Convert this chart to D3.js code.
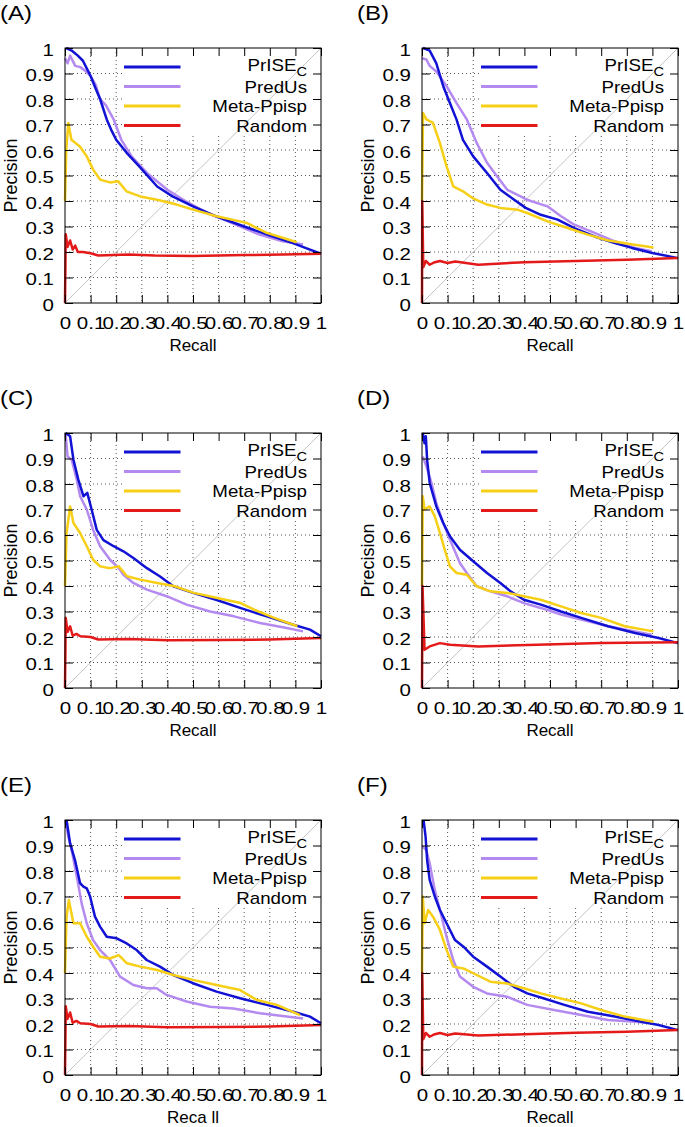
<!DOCTYPE html>
<html>
<head>
<meta charset="utf-8">
<script src="https://cdn.jsdelivr.net/npm/d3@7"></script>
<style>
  body { margin: 0; background: #fff; }
  text { font-family: "Liberation Sans", Arial, sans-serif; fill: #000; }
</style>
</head>
<body>
<svg id="chart" width="685" height="1127"></svg>
<script>
// Tick values and labels (same for both axes)
const tickValues = [0, 0.1, 0.2, 0.3, 0.4, 0.5, 0.6, 0.7, 0.8, 0.9, 1];
const tickLabels = ["0", "0.1", "0.2", "0.3", "0.4", "0.5", "0.6", "0.7", "0.8", "0.9", "1"];
const seriesNames = ["PrISE", "PredUs", "Meta-Ppisp", "Random"];
const panelIds = ["A", "B", "C", "D", "E", "F"];
const xTitles = ["Recall", "Recall", "Recall", "Recall", "Reca ll", "Recall"];

// [recall, precision]
const aPrise = [[0.005,1.0],[0.026,0.99],[0.05,0.97],[0.07,0.95],[0.085,0.92],[0.1,0.89],[0.12,0.84],[0.137,0.80],[0.163,0.72],[0.18,0.68],[0.2,0.64],[0.24,0.59],[0.29,0.536],[0.36,0.457],[0.42,0.418],[0.5,0.379],[0.59,0.34],[0.7,0.30],[0.79,0.268],[0.89,0.235],[0.957,0.209],[1,0.193]];
const aPredus = [[0,0.96],[0.01,0.94],[0.02,0.97],[0.04,0.93],[0.06,0.925],[0.08,0.91],[0.1,0.89],[0.12,0.855],[0.137,0.8],[0.16,0.775],[0.19,0.72],[0.22,0.64],[0.26,0.575],[0.32,0.51],[0.4,0.444],[0.47,0.40],[0.56,0.352],[0.66,0.31],[0.76,0.268],[0.85,0.242],[0.93,0.229]];
const aMeta = [[0,0.4],[0.005,0.6],[0.013,0.706],[0.025,0.64],[0.058,0.614],[0.085,0.575],[0.11,0.523],[0.137,0.484],[0.176,0.473],[0.208,0.477],[0.24,0.438],[0.294,0.418],[0.36,0.405],[0.436,0.386],[0.5,0.366],[0.592,0.34],[0.684,0.32],[0.71,0.314],[0.788,0.275],[0.853,0.255],[0.905,0.238]];
const aRandom = [[0,0],[0.003,0.27],[0.01,0.22],[0.02,0.245],[0.03,0.21],[0.04,0.225],[0.05,0.2],[0.07,0.2],[0.1,0.195],[0.13,0.186],[0.25,0.19],[0.35,0.186],[0.5,0.184],[0.7,0.188],[0.85,0.19],[1,0.193]];

const bPrise = [[0.004,1.0],[0.03,0.99],[0.056,0.94],[0.083,0.85],[0.109,0.784],[0.135,0.719],[0.16,0.64],[0.2,0.575],[0.254,0.51],[0.306,0.444],[0.36,0.405],[0.405,0.373],[0.464,0.346],[0.53,0.327],[0.595,0.294],[0.674,0.261],[0.753,0.235],[0.82,0.216],[0.9,0.196],[1,0.176]];
const bPredus = [[0,0.96],[0.017,0.955],[0.03,0.93],[0.056,0.908],[0.096,0.85],[0.135,0.784],[0.175,0.72],[0.214,0.627],[0.254,0.55],[0.293,0.497],[0.333,0.444],[0.41,0.405],[0.49,0.379],[0.543,0.34],[0.595,0.307],[0.674,0.275],[0.753,0.242],[0.832,0.216],[0.897,0.203]];
const bMeta = [[0,0.4],[0.004,0.745],[0.017,0.72],[0.043,0.706],[0.07,0.627],[0.096,0.536],[0.122,0.457],[0.16,0.438],[0.2,0.41],[0.254,0.386],[0.306,0.373],[0.372,0.366],[0.411,0.353],[0.49,0.32],[0.569,0.294],[0.648,0.268],[0.727,0.245],[0.805,0.232],[0.904,0.218]];
const bRandom = [[0,0],[0.001,0.4],[0.005,0.14],[0.015,0.165],[0.03,0.15],[0.05,0.16],[0.07,0.165],[0.1,0.157],[0.13,0.163],[0.22,0.15],[0.4,0.16],[0.6,0.165],[0.8,0.17],[1,0.176]];

const cPrise = [[0.003,1.0],[0.02,0.987],[0.033,0.895],[0.052,0.817],[0.072,0.752],[0.087,0.765],[0.104,0.7],[0.124,0.62],[0.15,0.58],[0.19,0.556],[0.228,0.536],[0.267,0.51],[0.32,0.47],[0.37,0.438],[0.423,0.399],[0.5,0.373],[0.59,0.346],[0.684,0.314],[0.788,0.281],[0.892,0.248],[0.957,0.229],[1,0.203]];
const cPredus = [[0.002,1.0],[0.01,0.908],[0.026,0.895],[0.046,0.817],[0.059,0.752],[0.085,0.7],[0.11,0.62],[0.137,0.556],[0.176,0.503],[0.21,0.47],[0.228,0.444],[0.267,0.412],[0.32,0.386],[0.397,0.36],[0.475,0.327],[0.567,0.30],[0.66,0.281],[0.762,0.255],[0.866,0.235],[0.93,0.222]];
const cMeta = [[0,0.4],[0.006,0.608],[0.02,0.712],[0.033,0.647],[0.059,0.608],[0.085,0.556],[0.11,0.503],[0.137,0.477],[0.176,0.47],[0.21,0.477],[0.242,0.438],[0.294,0.425],[0.36,0.412],[0.425,0.4],[0.503,0.373],[0.595,0.353],[0.686,0.333],[0.739,0.307],[0.817,0.275],[0.908,0.242]];
const cRandom = [[0,0],[0.003,0.275],[0.01,0.22],[0.02,0.242],[0.03,0.205],[0.045,0.212],[0.06,0.203],[0.1,0.2],[0.13,0.19],[0.25,0.192],[0.4,0.187],[0.6,0.188],[0.8,0.19],[1,0.196]];

const dPrise = [[0.003,1.0],[0.01,0.96],[0.015,0.987],[0.02,0.895],[0.03,0.804],[0.056,0.712],[0.083,0.647],[0.109,0.595],[0.148,0.542],[0.2,0.497],[0.254,0.451],[0.306,0.412],[0.346,0.379],[0.398,0.346],[0.464,0.327],[0.543,0.3],[0.622,0.275],[0.727,0.242],[0.832,0.216],[0.924,0.196],[1,0.176]];
const dPredus = [[0.003,0.908],[0.017,0.87],[0.037,0.804],[0.056,0.725],[0.083,0.647],[0.109,0.582],[0.148,0.49],[0.175,0.451],[0.214,0.399],[0.267,0.379],[0.332,0.36],[0.398,0.333],[0.464,0.314],[0.543,0.288],[0.622,0.268],[0.727,0.242],[0.832,0.222],[0.897,0.209]];
const dMeta = [[0,0.4],[0.003,0.752],[0.01,0.7],[0.03,0.712],[0.05,0.673],[0.07,0.608],[0.089,0.542],[0.109,0.477],[0.135,0.451],[0.175,0.444],[0.214,0.399],[0.267,0.379],[0.332,0.373],[0.398,0.36],[0.464,0.346],[0.543,0.32],[0.622,0.294],[0.7,0.275],[0.792,0.242],[0.904,0.222]];
const dRandom = [[0,0],[0.002,0.4],[0.01,0.15],[0.03,0.163],[0.07,0.176],[0.11,0.17],[0.22,0.163],[0.45,0.17],[0.7,0.176],[1,0.179]];

const ePrise = [[0.006,1.0],[0.02,0.908],[0.039,0.843],[0.059,0.752],[0.072,0.739],[0.085,0.732],[0.098,0.7],[0.117,0.621],[0.137,0.582],[0.163,0.542],[0.202,0.536],[0.241,0.516],[0.28,0.49],[0.319,0.451],[0.371,0.425],[0.423,0.392],[0.5,0.36],[0.592,0.327],[0.684,0.301],[0.788,0.275],[0.892,0.248],[0.957,0.229],[1,0.203]];
const ePredus = [[0.002,1.0],[0.013,0.935],[0.026,0.882],[0.046,0.778],[0.065,0.673],[0.085,0.595],[0.11,0.529],[0.137,0.49],[0.176,0.451],[0.215,0.386],[0.267,0.353],[0.32,0.34],[0.358,0.34],[0.397,0.314],[0.475,0.288],[0.566,0.268],[0.658,0.261],[0.762,0.242],[0.866,0.229],[0.93,0.222]];
const eMeta = [[0,0.4],[0.006,0.62],[0.015,0.686],[0.033,0.595],[0.059,0.595],[0.085,0.542],[0.11,0.503],[0.137,0.464],[0.176,0.457],[0.21,0.47],[0.242,0.438],[0.294,0.425],[0.36,0.412],[0.423,0.392],[0.5,0.373],[0.592,0.353],[0.684,0.333],[0.75,0.294],[0.828,0.275],[0.918,0.235]];
const eRandom = [[0,0],[0.003,0.27],[0.01,0.22],[0.02,0.245],[0.03,0.205],[0.045,0.212],[0.06,0.203],[0.1,0.2],[0.13,0.19],[0.25,0.192],[0.4,0.187],[0.6,0.188],[0.8,0.19],[1,0.196]];

const fPrise = [[0.006,1.0],[0.014,0.935],[0.02,0.843],[0.03,0.765],[0.05,0.7],[0.07,0.647],[0.096,0.595],[0.129,0.529],[0.162,0.503],[0.2,0.464],[0.254,0.425],[0.306,0.386],[0.359,0.346],[0.411,0.32],[0.477,0.3],[0.556,0.275],[0.648,0.248],[0.753,0.229],[0.858,0.209],[0.924,0.196],[1,0.176]];
const fPredus = [[0.003,0.895],[0.017,0.882],[0.03,0.83],[0.05,0.725],[0.07,0.647],[0.096,0.542],[0.122,0.451],[0.148,0.386],[0.2,0.346],[0.254,0.32],[0.332,0.307],[0.411,0.275],[0.516,0.255],[0.622,0.235],[0.727,0.216],[0.832,0.209],[0.897,0.203]];
const fMeta = [[0,0.4],[0.003,0.7],[0.01,0.595],[0.024,0.647],[0.043,0.621],[0.07,0.569],[0.096,0.49],[0.122,0.425],[0.162,0.418],[0.2,0.399],[0.267,0.366],[0.332,0.359],[0.398,0.34],[0.464,0.32],[0.543,0.3],[0.622,0.281],[0.7,0.255],[0.792,0.229],[0.904,0.209]];
const fRandom = [[0,0],[0.001,0.4],[0.005,0.14],[0.015,0.165],[0.03,0.15],[0.05,0.16],[0.07,0.165],[0.1,0.157],[0.13,0.163],[0.22,0.155],[0.4,0.16],[0.6,0.166],[0.8,0.17],[1,0.176]];

const panelData = {
  A: [aPrise, aPredus, aMeta, aRandom],
  B: [bPrise, bPredus, bMeta, bRandom],
  C: [cPrise, cPredus, cMeta, cRandom],
  D: [dPrise, dPredus, dMeta, dRandom],
  E: [ePrise, ePredus, eMeta, eRandom],
  F: [fPrise, fPredus, fMeta, fRandom]
};

// Layout
const colors = ["#1212d4", "#b48af0", "#f6cf16", "#e41a1a"];
const drawOrder = [1, 0, 2, 3];
const width = 256, height = 255;
const origins = {
  A: [65, 48], B: [422, 48],
  C: [65, 433], D: [422, 433],
  E: [65, 820], F: [422, 820]
};
const tickStretch = 1.28, legendStretch = 1.17;

const svg = d3.select("#chart");
const fmt = v => tickLabels[tickValues.indexOf(v)];

const x = d3.scaleLinear().domain([0, 1]).range([0, width]);
const y = d3.scaleLinear().domain([0, 1]).range([height, 0]);
const line = d3.line().x(d => x(d[0])).y(d => y(d[1]));

panelIds.forEach((id, pi) => {
  const [left, top] = origins[id];
  const g = svg.append("g").attr("transform", `translate(${left},${top})`);
  const inner = tickValues.slice(1, -1);

  // Dotted grid
  g.append("g").selectAll("line.h").data(inner).join("line")
      .attr("x1", 0).attr("x2", width)
      .attr("y1", d => y(d)).attr("y2", d => y(d))
      .attr("stroke", "#555").attr("stroke-width", 1).attr("stroke-dasharray", "1,3");
  g.append("g").selectAll("line.v").data(inner).join("line")
      .attr("y1", 0).attr("y2", height)
      .attr("x1", d => x(d)).attr("x2", d => x(d))
      .attr("stroke", "#555").attr("stroke-width", 1).attr("stroke-dasharray", "1,3");

  // Opaque key box
  g.append("rect").attr("x", 58).attr("y", 0).attr("width", width - 58).attr("height", 87)
      .attr("fill", "#fff");

  // Diagonal reference
  g.append("line")
      .attr("x1", x(0)).attr("y1", y(0)).attr("x2", x(1)).attr("y2", y(1))
      .attr("stroke", "#c4c4c4").attr("stroke-width", 1);

  // Curves
  drawOrder.forEach(si => {
    g.append("path")
        .datum(panelData[id][si])
        .attr("fill", "none")
        .attr("stroke", colors[si])
        .attr("stroke-width", 2.5)
        .attr("stroke-linejoin", "round")
        .attr("d", line);
  });

  // Axes with inward ticks
  const ax = (axis, tr, labels) => {
    const a = g.append("g").attr("transform", tr)
        .call(axis.tickValues(tickValues).tickSize(-8)
              .tickPadding(labels === "left" ? 8.6 : 15)
              .tickFormat(labels ? fmt : ""));
    a.select(".domain").remove();
    a.selectAll(".tick line").attr("stroke", "#000");
    a.selectAll("text").attr("font-size", 16)
        .style("font-family", '"Liberation Sans", Arial, sans-serif')
        .attr("fill", "#000");
    return a;
  };
  const yl = ax(d3.axisLeft(y), "translate(0,0)", "left");
  yl.selectAll("text").attr("dy", "0.45em").attr("transform", `scale(${tickStretch},1)`);
  const xb = ax(d3.axisBottom(x), `translate(0,${height})`, "bottom");
  xb.selectAll("text").attr("transform", `scale(${tickStretch},1)`);
  ax(d3.axisTop(x), "translate(0,0)", null);
  ax(d3.axisRight(y), `translate(${width},0)`, null);

  // Border
  g.append("rect").attr("width", width).attr("height", height)
      .attr("fill", "none").attr("stroke", "#000").attr("stroke-width", 1);

  // Legend
  const rows = [19, 38.5, 58, 77.5];
  seriesNames.forEach((name, si) => {
    g.append("line")
        .attr("x1", 59).attr("x2", 115.5)
        .attr("y1", rows[si]).attr("y2", rows[si])
        .attr("stroke", colors[si]).attr("stroke-width", 3);
    const t = g.append("text")
        .attr("transform", `translate(242,${rows[si] + (si === 0 ? 4 : 6)}) scale(${legendStretch},1)`)
        .attr("text-anchor", "end")
        .attr("font-size", 16);
    t.append("tspan").text(name);
    if (si === 0) {
      t.append("tspan").attr("font-size", 12.5).attr("dy", 4.7).text("C");
    }
  });

  // Axis titles
  g.append("text")
      .attr("x", width / 2).attr("y", height + 48)
      .attr("text-anchor", "middle").attr("font-size", 17)
      .text(xTitles[pi]);
  g.append("text")
      .attr("transform", `translate(-48.5,${height / 2}) rotate(-90)`)
      .attr("text-anchor", "middle").attr("font-size", 18)
      .text("Precision");

  // Panel label
  svg.append("text")
      .attr("transform", `translate(${left - 65},${top - 28}) scale(1.2,1)`)
      .attr("font-size", 20)
      .text(`(${id})`);
});
</script>
</body>
</html>
